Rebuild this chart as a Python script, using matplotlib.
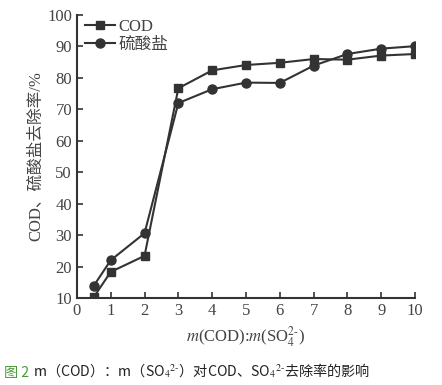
import matplotlib
matplotlib.use("Agg")
import matplotlib.pyplot as plt

ratio = [0.5, 1, 2, 3, 4, 5, 6, 7, 8, 9, 10]
cod = [10.3, 18.3, 23.4, 76.7, 82.4, 84.1, 84.8, 86.0, 85.8, 87.1, 87.6]
sulfate = [13.9, 22.0, 30.6, 72.0, 76.4, 78.5, 78.4, 83.9, 87.6, 89.3, 90.1]
xticks = list(range(0, 11))
yticks = list(range(10, 101, 10))

plt.rcParams['font.family'] = ['Liberation Serif', 'Noto Sans CJK SC']
plt.rcParams['mathtext.fontset'] = 'stix'

fig = plt.figure(figsize=(4.42, 3.85), dpi=100)
ax = fig.add_axes([0.174, 0.226, 0.765, 0.735])
c = '#333333'
ax.plot(ratio, cod, color=c, lw=1.5, marker='s', ms=6, label='COD')
ax.plot(ratio, sulfate, color=c, lw=1.5, marker='o', ms=6.5, label='硫酸盐')
ax.set_xlim(0, 10)
ax.set_ylim(10, 100)
ax.set_xticks(xticks)
ax.set_yticks(yticks)
ax.spines['top'].set_visible(False)
ax.spines['right'].set_visible(False)
for s in ['left', 'bottom']:
    ax.spines[s].set_linewidth(1.5)
    ax.spines[s].set_color(c)
ax.tick_params(direction='in', length=4, width=1.2, colors=c, labelsize=12, labelcolor='#444444')
ax.set_xlabel('$m$(COD):$m$(SO$_4^{2\\text{-}}$)', fontsize=12, color='#444444', labelpad=4)
ax.set_ylabel('COD、硫酸盐去除率/%', fontsize=12, color='#444444', labelpad=2)
leg = ax.legend(loc='upper left', frameon=False, fontsize=12, handlelength=1.8,
                handletextpad=0.2, labelspacing=0.1, borderaxespad=0.1,
                bbox_to_anchor=(0.0, 1.015))
for t in leg.get_texts():
    t.set_color('#444444')

fam = ['Noto Sans CJK SC', 'DejaVu Sans']
fig.text(0.008, 0.022, '图 2', color='#4a9a3a', fontsize=10.2, family=fam)
fig.text(0.075, 0.022, 'm（COD）：m（SO$_4$$^{2\\text{-}}$）对COD、SO$_4$$^{2\\text{-}}$去除率的影响',
         color='#222222', fontsize=10.2, family=fam)

fig.savefig('out.png', dpi=100)
